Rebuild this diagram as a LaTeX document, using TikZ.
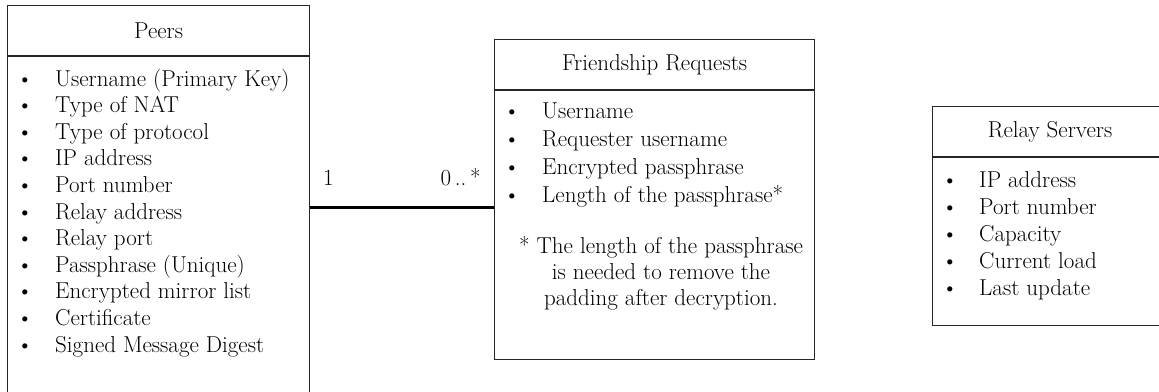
\documentclass[tikz,border=0pt]{standalone}
\usepackage{tikz}
\usetikzlibrary{positioning}
\tikzset{
  tablebox/.style={draw=black!85, line width=1.2pt, rectangle, inner sep=0pt, anchor=north west,
    font=\fontsize{23}{27}\selectfont},
  rowtext/.style={anchor=base west, inner sep=0pt, font=\fontsize{23}{27}\selectfont},
  rowdot/.style={anchor=base, inner sep=0pt, font=\fontsize{23}{27}\selectfont},
  multlabel/.style={inner sep=0pt, font=\fontsize{23}{27}\selectfont},
}

\begin{document}
\begin{tikzpicture}[x=1pt,y=-1pt]
		%%%%% FRAME %%%%%
		\useasboundingbox (0,0) rectangle (1159,391);
		\clip (0,0) rectangle (1159,391);
		
		%%%%% PEERS %%%%%
		\node[tablebox, minimum width=302pt, minimum height=50pt] (peers) at (7,5) {Peers};
		\node[tablebox, minimum width=302pt, minimum height=380pt] (peersbody) at (peers.south west) {};
		\foreach \txt [count=\i] in {Username (Primary Key), Type of NAT, Type of protocol,
		    IP address, Port number, Relay address, Relay port, Passphrase (Unique),
		    Encrypted mirror list, Certificate, Signed Message Digest}{
		  \node[rowdot] (peersdot\i) at (25, 86+26.6*\i-26.6) {\textbullet};
		  \node[rowtext] (peersrow\i) at (55, 86+26.6*\i-26.6) {\txt};
		}
		
		%%%%% FRIENDSHIP REQUESTS %%%%%
		\node[tablebox, minimum width=320pt, minimum height=50pt] (friends) at (494,39) {Friendship Requests};
		\node[tablebox, minimum width=320pt, minimum height=269pt] (friendsbody) at (friends.south west) {};
		\foreach \txt [count=\i] in {Username, Requester username, Encrypted passphrase,
		    Length of the passphrase*}{
		  \node[rowdot] (friendsdot\i) at (512, 118+28*\i-28) {\textbullet};
		  \node[rowtext] (friendsrow\i) at (542, 118+28*\i-28) {\txt};
		}
		\foreach \txt [count=\i] in {* The length of the passphrase, is needed to remove the,
		    padding after decryption.}{
		  \node[rowtext, anchor=base] (friendsnote\i) at (661, 253+26*\i-26) {\txt};
		}
		
		%%%%% RELAY SERVERS %%%%%
		\node[tablebox, minimum width=235pt, minimum height=50pt] (relays) at (932,106) {Relay Servers};
		\node[tablebox, minimum width=235pt, minimum height=168pt] (relaysbody) at (relays.south west) {};
		\foreach \txt [count=\i] in {IP address, Port number, Capacity, Current load, Last update}{
		  \node[rowdot] (relaysdot\i) at (950, 187+27*\i-27) {\textbullet};
		  \node[rowtext] (relaysrow\i) at (979, 187+27*\i-27) {\txt};
		}
		
		%%%%% ASSOCIATION %%%%%
		\coordinate (link) at (400,207);
		\draw[line width=3pt] (link -| peersbody.east) -- (link -| friendsbody.west);
		\node[multlabel, anchor=base west] (onelabel) at (323,185) {1};
		\node[multlabel, anchor=base east] (manylabel) at (481,185) {0\,..\,*};
		
		%%%%% END %%%%%
	\end{tikzpicture}
\end{document}
